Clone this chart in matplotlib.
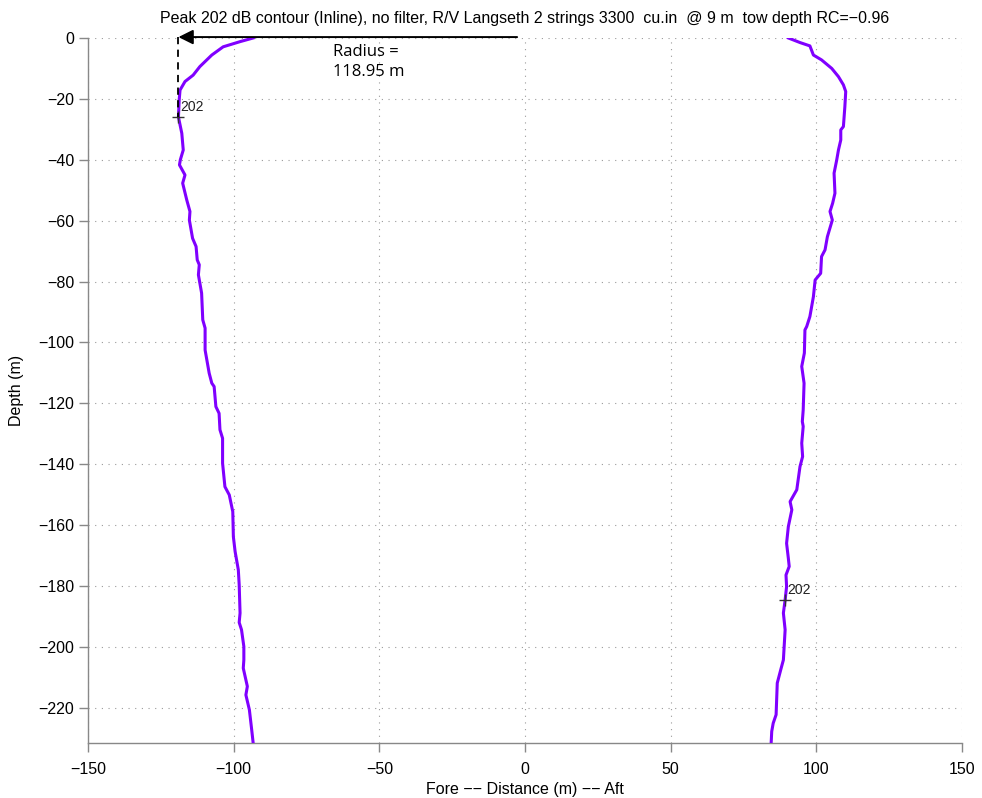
import numpy as np
import matplotlib
matplotlib.use("Agg")
import matplotlib.pyplot as plt

plt.rcParams["font.family"] = ["Liberation Sans", "DejaVu Sans"]

g_title = ("Peak 202 dB contour (Inline), no filter, R/V Langseth 2 strings 3300  cu.in"
           "  @ 9 m  tow depth RC=\u22120.96")
g_xlabel = "Fore \u2212\u2212 Distance (m) \u2212\u2212 Aft"
g_ylabel = "Depth (m)"

g_xlim = [-150, 150]
g_ylim = [-231.6, 0]

# fore side of the 202 dB contour
fore_depth = [0, -1.2, -2.9, -5.6, -9.4, -12.2, -14.3, -17.1, -20.4, -26.0, -31.3, -36.8,
              -40.0, -41.7, -45.0, -47.7, -53.2, -57.0, -59.8, -65.8, -68.5, -72.9, -74.5,
              -77.8, -83.8, -92.6, -95.3, -102.5, -110.1, -113.4, -114.5, -121.1, -123.3,
              -128.7, -131.5, -139.7, -147.4, -150.1, -155.6, -163.8, -168.7, -174.7,
              -179.6, -188.9, -192.0, -194.4, -199.9, -204.3, -207.0, -213.0, -215.8,
              -220.7, -227.3, -231.6]
fore_dist = [-93.3, -97.8, -103.6, -107.5, -111.6, -113.9, -116.7, -118.4, -118.7, -118.95,
             -117.8, -117.3, -118.3, -118.6, -116.7, -117.5, -116.1, -115.0, -115.2, -114.1,
             -112.9, -112.5, -111.8, -112.1, -111.0, -110.6, -109.8, -109.8, -108.4, -107.5,
             -106.7, -106.1, -105.0, -104.7, -103.8, -103.8, -103.0, -101.5, -100.3, -100.1,
             -99.5, -98.4, -98.1, -97.8, -98.1, -97.3, -96.5, -96.5, -96.7, -95.3, -95.8,
             -94.6, -93.8, -93.3]

# aft side of the 202 dB contour
aft_depth = [0, -1.5, -2.6, -5.6, -7.2, -10.0, -12.7, -15.4, -17.6, -22.6, -29.1, -30.2,
             -33.5, -36.8, -40.1, -44.4, -51.0, -54.3, -57.0, -59.8, -65.3, -69.6, -71.8,
             -77.3, -79.5, -85.0, -91.5, -94.8, -95.9, -103.5, -107.9, -113.4, -122.2,
             -126.0, -127.6, -133.1, -137.5, -140.8, -148.4, -152.3, -155.0, -160.5, -166.0,
             -170.9, -173.6, -176.4, -180.2, -184.6, -188.9, -194.4, -204.3, -207.5, -211.9,
             -222.3, -225.1, -227.8, -231.6]
aft_dist = [90.4, 94.4, 97.8, 99.0, 101.8, 105.3, 107.6, 109.3, 110.1, 109.8, 109.3, 108.4,
            108.4, 107.6, 107.0, 106.1, 106.4, 105.6, 104.7, 105.5, 103.8, 103.0, 101.8,
            101.5, 99.6, 99.0, 97.8, 96.7, 96.1, 95.9, 95.0, 95.8, 95.5, 95.2, 95.5, 95.0,
            95.3, 94.4, 93.3, 91.0, 91.6, 90.4, 89.8, 90.4, 90.7, 89.6, 89.8, 89.3, 88.7,
            89.3, 88.7, 87.8, 86.6, 86.2, 85.2, 84.7, 84.5]

# contour level labels
label_x = [-118.95, 89.3]
label_y = [-26.0, -184.6]
label_txt = ["202", "202"]

radius = 118.95
arrow_start = -2.7


def main():
    fig = plt.figure(figsize=(9.82, 7.98), dpi=100)
    ax = fig.add_axes([0.0896, 0.0689, 0.89, 0.8835])

    ax.set_xlim(g_xlim)
    ax.set_ylim(g_ylim)
    ax.set_xticks(np.arange(-150, 151, 50))
    ax.set_yticks(np.arange(-220, 1, 20))
    ax.grid(True, linestyle=(0, (1, 5)), color="#9a9a9a", linewidth=0.8)

    for side in ["top", "right"]:
        ax.spines[side].set_visible(False)
    for side in ["left", "bottom"]:
        ax.spines[side].set_color("#888888")
        ax.spines[side].set_linewidth(1.0)
    ax.tick_params(direction="out", length=6.5, width=1.0, color="#888888",
                   labelsize=11.5, labelcolor="black")
    ax.tick_params(axis="x", pad=7)
    ax.tick_params(axis="y", pad=3.5)

    ax.plot(fore_dist, fore_depth, color="#8000ff", lw=2.2, zorder=3)
    ax.plot(aft_dist, aft_depth, color="#8000ff", lw=2.2, zorder=3)

    for x, y, t in zip(label_x, label_y, label_txt):
        ax.plot(x, y, marker="+", color="#333333", markersize=8, mew=1, zorder=4)
        ax.text(x + 0.7, y + 1.0, t, fontsize=10, color="#222222", va="bottom", ha="left")

    # radius arrow and dashed drop line
    ax.annotate("", xy=(-radius, 0.3), xytext=(arrow_start, 0.3),
                arrowprops=dict(arrowstyle="-|>", color="black", lw=1.4,
                                mutation_scale=22, shrinkA=0, shrinkB=0),
                annotation_clip=False, zorder=5)
    ax.plot([-radius, -radius], [0.3, label_y[0]], color="black", lw=1.3,
            linestyle=(0, (4, 3)), zorder=5, clip_on=False)
    ax.text(-65.9, -2.0, "Radius =\n{:.2f} m".format(radius), fontsize=12,
            family=["Open Sans", "DejaVu Sans"], va="top", ha="left", linespacing=1.35)

    ax.set_title(g_title, fontsize=11.5, pad=11)
    ax.set_xlabel(g_xlabel, fontsize=11.5, labelpad=4)
    ax.set_ylabel(g_ylabel, fontsize=11.5, labelpad=10)

    fig.savefig("out.png", dpi=100)


if __name__ == "__main__":
    main()
